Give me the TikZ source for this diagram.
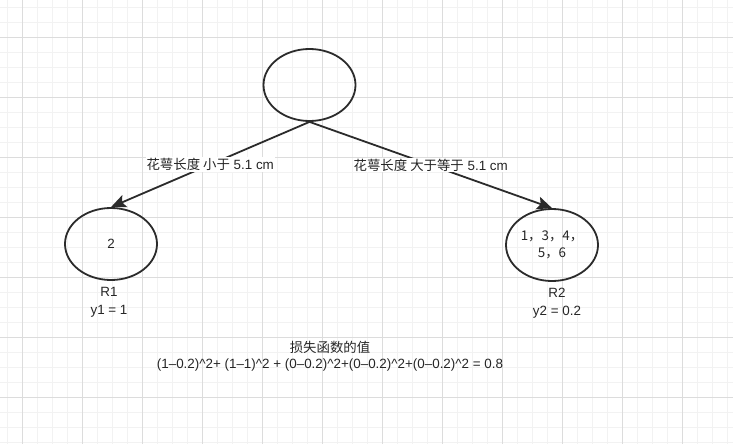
\documentclass[tikz,border=0pt]{standalone}
\usepackage{fontspec}
\setmainfont{Liberation Sans}
\newfontfamily\cjk{Noto Sans CJK SC}
\usetikzlibrary{shapes.geometric,arrows.meta}
\definecolor{inkgray}{HTML}{2B2B2B}
\definecolor{minorline}{HTML}{F2F2F2}
\definecolor{majorline}{HTML}{DCDCDC}
\newcommand{\diagfont}{\fontsize{13.4}{16.5}\selectfont}
\tikzset{
leaf/.style={
	  draw=inkgray, line width=1.8pt, ellipse, minimum width=92pt,
	  minimum height=72pt, inner sep=0pt, align=center},
split/.style={
	  draw=inkgray, line width=1.8pt, -{Stealth[length=15pt,width=13pt,inset=3pt]}},
cond/.style={fill=white, inner sep=1pt},
note/.style={align=center, inner sep=0pt, font=\diagfont}
}

\begin{document}
\begin{tikzpicture}[x=1pt, y=-1pt, font=\diagfont, text=black!85]
	\fill[white] (0,0) rectangle (733,444);
	\useasboundingbox (0,0) rectangle (733,444);
	% grid
	\foreach \gx in {7,22,...,727} \draw[minorline, line width=0.8pt] (\gx,0) -- (\gx,444);
	\foreach \gy in {7,22,...,442} \draw[minorline, line width=0.8pt] (0,\gy) -- (733,\gy);
	\foreach \gx in {22,82,...,682} \draw[majorline, line width=0.8pt] (\gx,0) -- (\gx,444);
	\foreach \gy in {37,97,...,397} \draw[majorline, line width=0.8pt] (0,\gy) -- (733,\gy);

	\node[leaf, label={[note, xshift=-2pt, yshift=-6pt]below:R1\\[1.5pt]y1 = 1}] (r1) at (111,244) {2};
	\node[leaf] (root) at (309.5,85) {};
	\node[leaf, font=\diagfont\cjk, label={[note, xshift=5pt, yshift=-6pt]below:R2\\[1.5pt]y2 = 0.2}] (r2) at (552,245) {1，3，4，\\5，6};

	\draw[split] (root.south) -- node[cond] {{\cjk 花萼长度 小于} 5.1 cm} (r1.north);
	\draw[split] (root.south) -- node[cond] {{\cjk 花萼长度 大于等于} 5.1 cm} (r2.north);

	\node[note] (loss) at (330,356) {{\cjk 损失函数的值}\\(1–0.2)\textasciicircum 2+ (1–1)\textasciicircum 2 + (0–0.2)\textasciicircum 2+(0–0.2)\textasciicircum 2+(0–0.2)\textasciicircum 2 = 0.8};
\end{tikzpicture}
\end{document}
